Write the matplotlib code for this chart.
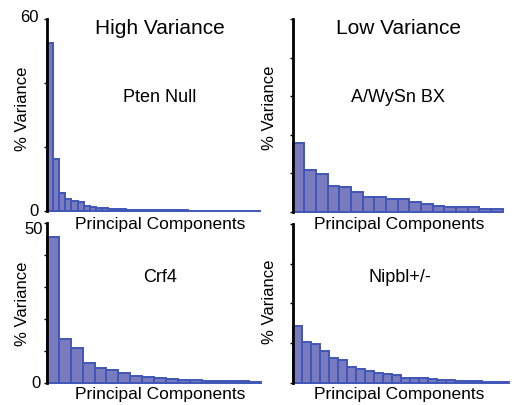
import matplotlib
matplotlib.use("Agg")
import matplotlib.pyplot as plt
import numpy as np

plt.rcParams['font.family'] = ['Liberation Sans', 'DejaVu Sans']

# Data (% variance per principal component)
pten_null = [52.5, 16.3, 5.6, 3.8, 3.2, 2.7, 1.7, 1.25, 1.05, 0.85, 0.75, 0.6,
             0.5, 0.45, 0.4, 0.35, 0.3, 0.3, 0.25, 0.25, 0.2, 0.2, 0.2, 0.15,
             0.15, 0.15, 0.12, 0.12, 0.1, 0.1, 0.1, 0.08, 0.08, 0.06, 0.05]
awysn_bx = [17.9, 10.8, 9.9, 6.7, 6.3, 5.0, 3.9, 3.8, 3.3, 3.3, 2.6, 2.1,
            1.6, 1.2, 1.1, 1.2, 0.8, 0.7]
crf4 = [45.6, 13.7, 10.9, 6.2, 4.7, 3.9, 3.1, 2.1, 1.8, 1.4, 1.1, 0.75,
        0.7, 0.65, 0.55, 0.5, 0.45, 0.35]
nipbl = [14.4, 10.3, 9.7, 8.1, 6.1, 5.8, 3.9, 3.4, 3.0, 2.4, 2.3, 1.9,
         1.3, 1.3, 1.1, 1.0, 0.8, 0.6, 0.5, 0.4, 0.4, 0.3, 0.25, 0.25]

panel_names = ["Pten Null", "A/WySn BX", "Crf4", "Nipbl+/-"]
column_titles = ["High Variance", "Low Variance"]
ylims = [60, 50, 50, 40]
ytick_step = [20, 10, 10, 10]
ytick_labeled = [True, False, True, False]

W, H = 514, 405
fig = plt.figure(figsize=(W / 100, H / 100), dpi=100)

# axes boxes in pixel coords: x0, x1, ytop, ybottom
boxes = [(47, 261, 19, 211), (292.5, 502.5, 19, 211.7),
         (47, 261, 223.3, 382.7), (292.5, 509, 224, 382.7)]
datasets = [pten_null, awysn_bx, crf4, nipbl]

face = '#7a7bbe'
edge = '#3f57b8'

def ftext(x, y, s, ha='center', **kw):
    fig.text(x / W, 1 - y / H, s, ha=ha, va='center', **kw)

for i, (box, vals) in enumerate(zip(boxes, datasets)):
    x0, x1, yt, yb = box
    ax = fig.add_axes([x0 / W, (H - yb) / H, (x1 - x0) / W, (yb - yt) / H])
    n = len(vals)
    ax.bar(np.arange(n), vals, width=1, align='edge', color=face,
           edgecolor=edge, linewidth=1.4, clip_on=False)
    ax.set_xlim(0, n)
    ax.set_ylim(0, ylims[i])
    ticks = np.arange(0, ylims[i] + 0.1, ytick_step[i])
    ax.set_yticks(ticks)
    ax.set_yticklabels([])
    ax.tick_params(axis='y', direction='out', length=2.5, width=1)
    ax.set_xticks([])
    for s in ['top', 'right', 'bottom']:
        ax.spines[s].set_visible(False)
    ax.spines['left'].set_linewidth(2)
    ax.spines['left'].set_color('black')
    ax.patch.set_alpha(0)

# y tick labels (only extremes shown on the left panels)
ftext(39, 17.5, str(ylims[0]), ha='right', fontsize=12)
ftext(39, 211, '0', ha='right', fontsize=12)
ftext(43, 229, str(ylims[2]), ha='right', fontsize=12)
ftext(41, 384, '0', ha='right', fontsize=12)

ftext(160, 28, column_titles[0], fontsize=15)
ftext(398, 28, column_titles[1], fontsize=15)
ftext(160, 98, panel_names[0], fontsize=13)
ftext(398, 97, panel_names[1], fontsize=13)
ftext(160, 277, panel_names[2], fontsize=13)
ftext(400, 277, panel_names[3], fontsize=13)

for (x, y) in [(23, 109), (270, 108), (23, 304), (270, 302)]:
    ftext(x, y, "% Variance", fontsize=12, rotation=90)
for (x, y) in [(160, 225), (399, 225), (160, 395), (399, 395)]:
    ftext(x, y, "Principal Components", fontsize=12.5)

fig.savefig("out.png", dpi=100)
